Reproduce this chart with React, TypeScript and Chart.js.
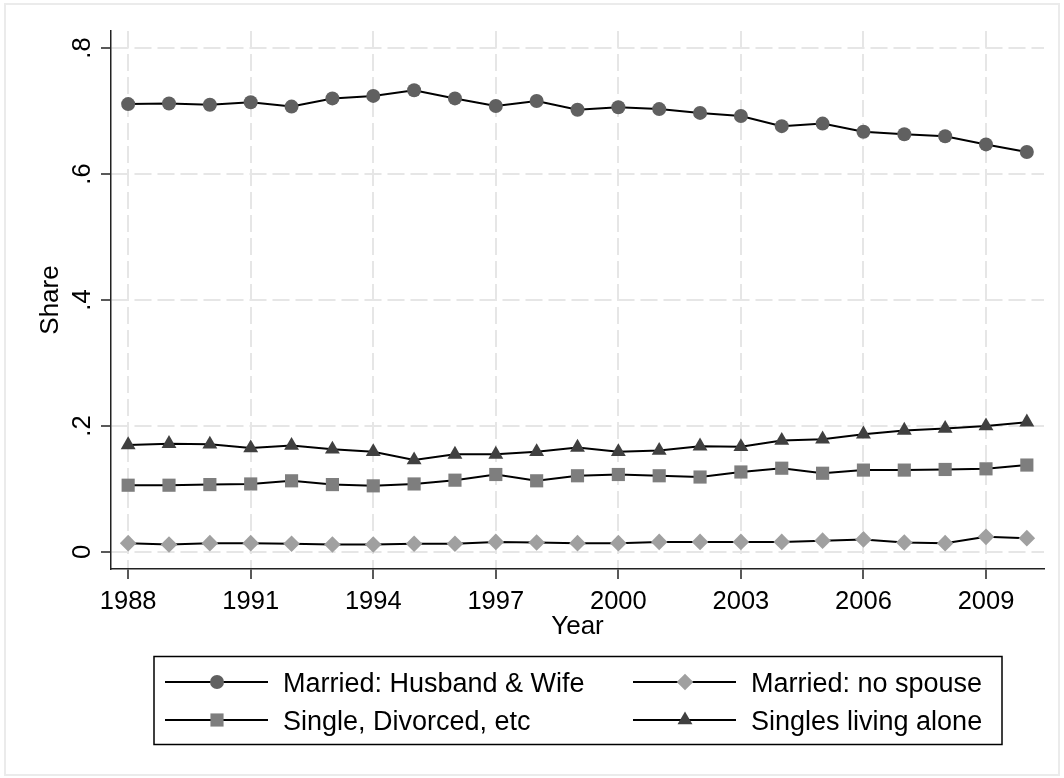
import { useEffect, useRef } from "react";
import { Chart, registerables } from "chart.js";

Chart.register(...registerables);

// Household composition shares by year
const years = [
  1988, 1989, 1990, 1991, 1992, 1993, 1994, 1995, 1996, 1997, 1998, 1999,
  2000, 2001, 2002, 2003, 2004, 2005, 2006, 2007, 2008, 2009, 2010,
];

const marriedCouple = [
  0.711, 0.712, 0.71, 0.714, 0.707, 0.72, 0.724, 0.733, 0.72, 0.708, 0.716,
  0.702, 0.706, 0.703, 0.697, 0.692, 0.676, 0.68, 0.667, 0.663, 0.66, 0.647,
  0.635,
];
const marriedNoSpouse = [
  0.014, 0.012, 0.014, 0.014, 0.013, 0.012, 0.012, 0.013, 0.013, 0.016, 0.015,
  0.014, 0.014, 0.016, 0.016, 0.016, 0.016, 0.018, 0.02, 0.015, 0.014, 0.024,
  0.022,
];
const singleDivorced = [
  0.106, 0.106, 0.107, 0.108, 0.113, 0.107, 0.105, 0.108, 0.114, 0.123, 0.113,
  0.121, 0.123, 0.121, 0.119, 0.127, 0.133, 0.125, 0.13, 0.13, 0.131, 0.132,
  0.138,
];
const singlesAlone = [
  0.17, 0.172, 0.171, 0.165, 0.169, 0.163, 0.159, 0.146, 0.155, 0.155, 0.159,
  0.166, 0.159, 0.161, 0.168, 0.167, 0.177, 0.179, 0.187, 0.193, 0.196, 0.2,
  0.206,
];

const seriesNames = [
  "Married: Husband & Wife",
  "Married: no spouse",
  "Single, Divorced, etc",
  "Singles living alone",
];

const xTickYears = [1988, 1991, 1994, 1997, 2000, 2003, 2006, 2009];
const yTickValues = [0, 0.2, 0.4, 0.6, 0.8];
const yTickLabels = ["0", ".2", ".4", ".6", ".8"];

const FONT = '"Liberation Sans", Arial, Helvetica, sans-serif';

type MarkerStyle = { shape: string; color: string; radius: number };

const markers: MarkerStyle[] = [
  { shape: "circle", color: "#606060", radius: 7 },
  { shape: "rectRot", color: "#a0a0a0", radius: 8.3 },
  { shape: "rect", color: "#7e7e7e", radius: 9.3 },
  { shape: "triangle", color: "#404040", radius: 8.6 },
];

function drawMarker(
  ctx: CanvasRenderingContext2D,
  m: MarkerStyle,
  x: number,
  y: number
) {
  const r = m.radius;
  ctx.save();
  ctx.fillStyle = m.color;
  ctx.beginPath();
  if (m.shape === "circle") {
    ctx.arc(x, y, r, 0, Math.PI * 2);
  } else if (m.shape === "rect") {
    const s = r * Math.SQRT1_2;
    ctx.rect(x - s, y - s, 2 * s, 2 * s);
  } else if (m.shape === "rectRot") {
    ctx.moveTo(x - r, y);
    ctx.lineTo(x, y - r);
    ctx.lineTo(x + r, y);
    ctx.lineTo(x, y + r);
    ctx.closePath();
  } else {
    ctx.moveTo(x, y - r);
    ctx.lineTo(x + r * Math.sin((2 * Math.PI) / 3), y - r * Math.cos((2 * Math.PI) / 3));
    ctx.lineTo(x + r * Math.sin((4 * Math.PI) / 3), y - r * Math.cos((4 * Math.PI) / 3));
    ctx.closePath();
  }
  ctx.fill();
  ctx.restore();
}

const decorations = {
  id: "decorations",
  beforeDraw(chart: any) {
    const { ctx, width, height } = chart;
    ctx.save();
    ctx.fillStyle = "#ffffff";
    ctx.fillRect(0, 0, width, height);
    ctx.strokeStyle = "#ebebeb";
    ctx.lineWidth = 2;
    ctx.strokeRect(5, 4, 1054, 771);
    ctx.restore();
  },
  afterDraw(chart: any) {
    const { ctx } = chart;
    const yScale = chart.scales.y;

    // vertical tick labels on the y axis
    ctx.save();
    ctx.fillStyle = "#000000";
    ctx.font = `25.5px ${FONT}`;
    ctx.textAlign = "center";
    ctx.textBaseline = "alphabetic";
    yTickValues.forEach((v, i) => {
      const py = yScale.getPixelForValue(v);
      ctx.save();
      ctx.translate(90, py);
      ctx.rotate(-Math.PI / 2);
      ctx.fillText(yTickLabels[i], 0, 0);
      ctx.restore();
    });
    ctx.restore();

    // legend box with two columns
    ctx.save();
    ctx.strokeStyle = "#000000";
    ctx.lineWidth = 1.5;
    ctx.strokeRect(154, 656.5, 848, 88);
    const colX = [165, 633];
    const rowY = [682, 720];
    ctx.font = `27px ${FONT}`;
    ctx.textBaseline = "alphabetic";
    ctx.textAlign = "left";
    seriesNames.forEach((name, i) => {
      const cx = colX[i % 2];
      const cy = rowY[Math.floor(i / 2)];
      ctx.strokeStyle = "#000000";
      ctx.lineWidth = 2;
      ctx.beginPath();
      ctx.moveTo(cx, cy);
      ctx.lineTo(cx + 103, cy);
      ctx.stroke();
      drawMarker(ctx, markers[i], cx + 52, cy);
      ctx.fillStyle = "#000000";
      ctx.fillText(name, cx + 118, cy + 10);
    });
    ctx.restore();
  },
};

export default function App() {
  const canvasRef = useRef<HTMLCanvasElement | null>(null);

  useEffect(() => {
    const canvas = canvasRef.current;
    if (!canvas) return;
    const seriesValues = [marriedCouple, marriedNoSpouse, singleDivorced, singlesAlone];

    const chart = new Chart(canvas, {
      type: "line",
      data: {
        datasets: seriesValues.map((vals, i) => ({
          label: seriesNames[i],
          data: years.map((yr, j) => ({ x: yr, y: vals[j] })),
          borderColor: "#000000",
          borderWidth: 2,
          backgroundColor: markers[i].color,
          pointStyle: markers[i].shape as any,
          pointRadius: markers[i].radius,
          pointBackgroundColor: markers[i].color,
          pointBorderWidth: 0,
          pointHoverRadius: markers[i].radius,
          tension: 0,
          fill: false,
        })),
      },
      options: {
        responsive: false,
        animation: false,
        devicePixelRatio: 1,
        events: [],
        layout: { padding: { left: 0, top: 31, right: 20, bottom: 135.4 } },
        plugins: {
          legend: { display: false },
          tooltip: { enabled: false },
        },
        scales: {
          x: {
            type: "linear",
            min: 1987.58,
            max: 2010.42,
            afterBuildTicks: (scale: any) => {
              scale.ticks = xTickYears.map((v) => ({ value: v }));
            },
            afterFit: (scale: any) => {
              scale.height = 73.6;
            },
            ticks: {
              color: "#000000",
              font: { family: FONT, size: 25.5 },
              padding: 8,
              maxRotation: 0,
              minRotation: 0,
              autoSkip: false,
              callback: (v: any) => String(v),
            },
            grid: {
              color: "#e6e6e6",
              lineWidth: 2,
              tickColor: "#222222",
              tickWidth: 1.5,
              tickLength: 10,
            },
            border: { color: "#222222", width: 1.5, dash: [17, 6] },
            title: {
              display: true,
              text: "Year",
              color: "#000000",
              font: { family: FONT, size: 26 },
              padding: { top: 0, bottom: 0 },
            },
          },
          y: {
            type: "linear",
            min: -0.027,
            max: 0.827,
            afterBuildTicks: (scale: any) => {
              scale.ticks = yTickValues.map((v) => ({ value: v }));
            },
            afterFit: (scale: any) => {
              scale.width = 111;
            },
            ticks: { display: false },
            grid: {
              color: "#e6e6e6",
              lineWidth: 2,
              tickColor: "#222222",
              tickWidth: 1.5,
              tickLength: 10,
            },
            border: { color: "#222222", width: 1.5, dash: [17, 6] },
            title: {
              display: true,
              text: "Share",
              color: "#000000",
              font: { family: FONT, size: 26 },
              padding: { top: 35, bottom: 0 },
            },
          },
        },
      },
      plugins: [decorations],
    });

    return () => chart.destroy();
  }, []);

  return (
    <div style={{ position: "absolute", left: 0, top: 0, width: 1064, height: 778 }}>
      <canvas ref={canvasRef} width={1064} height={778} style={{ display: "block" }} />
    </div>
  );
}
